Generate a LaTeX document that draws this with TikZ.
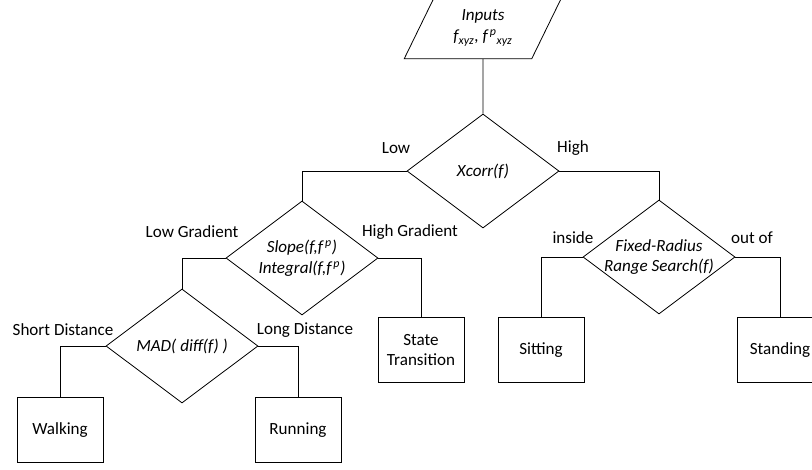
\documentclass[tikz,border=0pt]{standalone}
\usepackage{fontspec}
\setmainfont{Carlito}
\usetikzlibrary{shapes.geometric}
\newcommand{\flowfont}{\fontsize{12.8}{15.5}\selectfont}
\tikzset{
  decision/.style={diamond, draw, aspect=1.33, inner sep=-4pt,
    minimum width=114pt, minimum height=85.5pt, align=center,
    font=\flowfont\itshape},
  outcome/.style={rectangle, draw, minimum width=64.5pt,
    minimum height=48.75pt, align=center, font=\flowfont},
  branch/.style={inner sep=0pt, font=\flowfont},
}

\begin{document}
\begin{tikzpicture}[x=0.75pt, y=-0.75pt, line width=0.6pt]
  \useasboundingbox (0,0) rectangle (812,469);

  % input data
  \node[trapezium, draw, trapezium left angle=65, trapezium right angle=115,
    trapezium stretches=true, minimum width=118.5pt, minimum height=46pt,
    align=center, font=\flowfont\itshape] (inputs) at (483,28)
    {Inputs\\f\textsubscript{xyz}, f\textsuperscript{\,p}\textsubscript{xyz}};

  % decisions
  \node[decision] (xcorr) at (483,171) {Xcorr(f)};
  \node[decision] (slope) at (302,258)
    {Slope(f,f\textsuperscript{\,p})\\Integral(f,f\textsuperscript{\,p})};
  \node[decision] (radius) at (659,257) {Fixed-Radius\\Range Search(f)};
  \node[decision] (mad) at (182,346) {MAD( diff(f) )};

  % activities
  \node[outcome] (walking) at (60,430) {Walking};
  \node[outcome] (running) at (298,430) {Running};
  \node[outcome] (state) at (421,350) {State\\Transition};
  \node[outcome] (sitting) at (541,350) {Sitting};
  \node[outcome] (standing) at (780,350) {Standing};

  % branch labels
  \node[branch] (low) at (396,148) {Low};
  \node[branch] (high) at (573,148) {High};
  \node[branch] (lowgrad) at (192,232) {Low Gradient};
  \node[branch] (highgrad) at (410,232) {High Gradient};
  \node[branch] (inside) at (573,238) {inside};
  \node[branch] (outof) at (752,238) {out of};
  \node[branch] (short) at (63,330) {Short Distance};
  \node[branch] (long) at (305,330) {Long Distance};

  % connectors
  \draw (inputs.south) -- (xcorr.north);
  \draw (xcorr.west) -| (slope.north);
  \draw (xcorr.east) -| (radius.north);
  \draw (slope.west) -| (mad.north);
  \draw (slope.east) -| (state.north);
  \draw (radius.west) -| (sitting.north);
  \draw (radius.east) -| (standing.north);
  \draw (mad.west) -| (walking.north);
  \draw (mad.east) -| (running.north);
\end{tikzpicture}
\end{document}
